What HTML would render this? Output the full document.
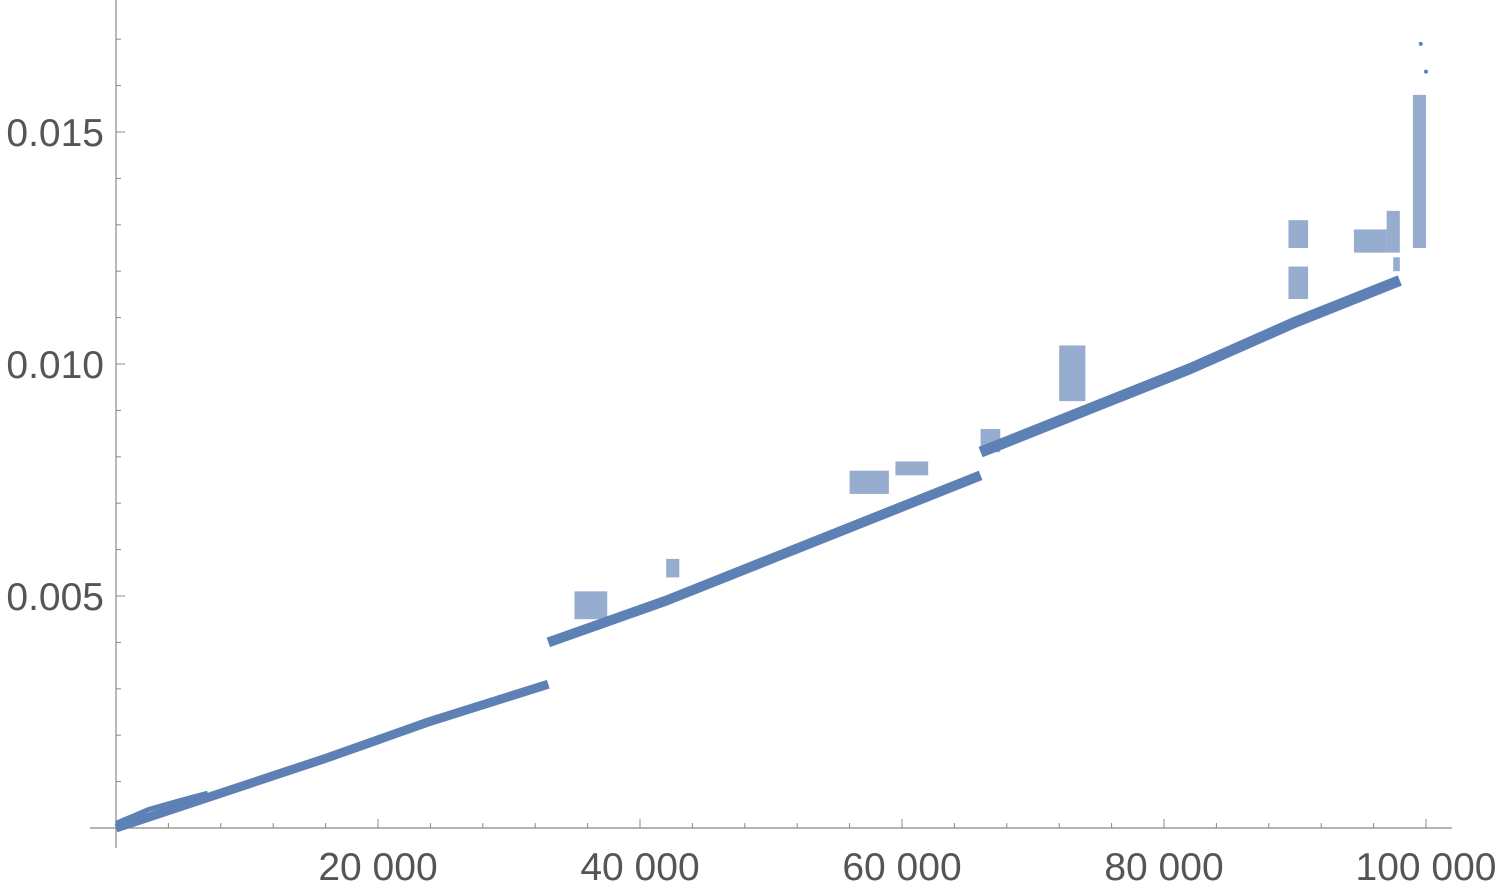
<!DOCTYPE html>
<html><head><meta charset="utf-8"><style>
html,body{margin:0;padding:0;background:#fff;}
svg{display:block;}
text{font-family:"Liberation Sans",sans-serif;fill:#555;font-size:39px;}
</style></head><body>
<svg id="chart" width="1500" height="891"></svg>
<script>
// data
const xTicks=[20000,40000,60000,80000,100000];
const xTickLabels=["20 000","40 000","60 000","80 000","100 000"];
const yTicks=[0.005,0.010,0.015];
const yTickLabels=["0.005","0.010","0.015"];
// main band segments (x values, y values)
const seg1X=[0,8000,16000,24000,33000];
const seg1Y=[0,0.00075,0.0015,0.0023,0.0031];
const seg0X=[0,2500,5000,7000];
const seg0Y=[0.0001,0.0004,0.0006,0.00075];
const seg2X=[33000,42000,50000,58000,66000];
const seg2Y=[0.0040,0.0049,0.0058,0.0067,0.0076];
const seg3X=[66000,74000,82000,90000,98000];
const seg3Y=[0.0081,0.0090,0.0099,0.0109,0.0118];
// outlier clusters: [xMin,xMax,yMin,yMax]
const clusterX0=[35000,42000,56000,59500,66000,72000,89500,89500,94500,97000,99000,97500];
const clusterX1=[37500,43000,59000,62000,67500,74000,91000,91000,97000,98000,100000,98000];
const clusterY0=[0.0045,0.0054,0.0072,0.0076,0.0081,0.0092,0.0114,0.0125,0.0124,0.0124,0.0125,0.0120];
const clusterY1=[0.0051,0.0058,0.0077,0.0079,0.0086,0.0104,0.0121,0.0131,0.0129,0.0133,0.0158,0.0123];
const outX=[99600,100000];
const outY=[0.0169,0.0163];

const NS="http://www.w3.org/2000/svg";
const svg=document.getElementById('chart');
const X=v=>116+v*262/20000;
const Y=v=>828-v*232/0.005;
const C="#5e81b5";
function el(t,a){const e=document.createElementNS(NS,t);for(const k in a)e.setAttribute(k,a[k]);svg.appendChild(e);return e;}

let ax=el('line',{x1:90,y1:828,x2:1452,y2:828,stroke:'#888','stroke-width':1.2});


let ay=el('line',{x1:116,y1:0,x2:116,y2:848,stroke:'#888','stroke-width':1.2});


for(let v=4000;v<=100000;v+=4000){
  const major=v%20000===0;
  let t=el('line',{x1:X(v),y1:828,x2:X(v),y2:828-(major?9:5),stroke:'#888'});
  
  
}
for(let v=0.001;v<0.0175;v+=0.001){
  const major=Math.abs(v/0.005-Math.round(v/0.005))<1e-6;
  let t=el('line',{x1:116,y1:Y(v),x2:116+(major?9:5),y2:Y(v),stroke:'#888'});
  
  
}
xTicks.forEach((v,i)=>{
  let t=el('text',{x:X(v),y:880,'text-anchor':'middle'});t.textContent=xTickLabels[i];
  
  
});
yTicks.forEach((v,i)=>{
  let t=el('text',{x:104,y:Y(v)+14,'text-anchor':'end'});t.textContent=yTickLabels[i];
  
  
});
[[seg0X,seg0Y,5],[seg1X,seg1Y,9],[seg2X,seg2Y,10],[seg3X,seg3Y,11]].forEach(([xs,ys,w])=>{
  const pts=xs.map((x,i)=>X(x)+','+Y(ys[i])).join(' ');
  let p=el('polyline',{points:pts,fill:'none',stroke:C,'stroke-width':w,'stroke-linejoin':'round'});
  
  
});
clusterX0.forEach((x0,i)=>{
  let r=el('rect',{x:X(x0),y:Y(clusterY1[i]),width:X(clusterX1[i])-X(x0),height:Y(clusterY0[i])-Y(clusterY1[i]),fill:C,opacity:0.65});
  
  
});
outX.forEach((x,i)=>{
  let c=el('circle',{cx:X(x),cy:Y(outY[i]),r:2,fill:C});
  
  
});
</script>
</body></html>
